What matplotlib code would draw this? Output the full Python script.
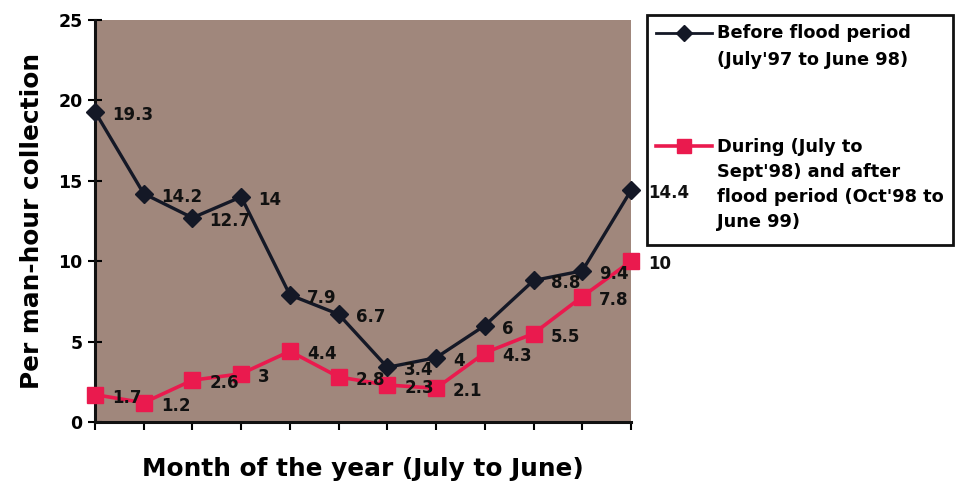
import matplotlib
matplotlib.use("Agg")
import matplotlib.pyplot as plt
from matplotlib.lines import Line2D
from matplotlib.patches import Rectangle

# Monthly per man-hour collection, July to June
months = list(range(12))
before_flood = [19.3, 14.2, 12.7, 14, 7.9, 6.7, 3.4, 4, 6, 8.8, 9.4, 14.4]
after_flood = [1.7, 1.2, 2.6, 3, 4.4, 2.8, 2.3, 2.1, 4.3, 5.5, 7.8, 10]
y_ticks = [0, 5, 10, 15, 20, 25]

before_label = "Before flood period\n(July'97 to June 98)"
after_label = "During (July to\nSept'98) and after\nflood period (Oct'98 to\nJune 99)"

BLACK = "#141826"
RED = "#EA1A4E"
BG = "#A0877C"

plt.rcParams["font.family"] = ["DejaVu Sans"]
plt.rcParams["font.weight"] = "bold"

W, H = 959, 488
fig = plt.figure(figsize=(W / 100, H / 100), dpi=100)
fig.patch.set_facecolor("white")

left, right, top, bottom = 95, 631, 20, 422
ax = fig.add_axes([left / W, 1 - bottom / H, (right - left) / W, (bottom - top) / H])
ax.set_facecolor(BG)

ax.plot(months, before_flood, color=BLACK, lw=2.4, marker="D", ms=9.5,
        mfc=BLACK, mec=BLACK, clip_on=False, zorder=4)
ax.plot(months, after_flood, color=RED, lw=2.6, marker="s", ms=11,
        mfc=RED, mec=RED, clip_on=False, zorder=3)

for xs, ys in ((months, before_flood), (months, after_flood)):
    for x, y in zip(xs, ys):
        ax.annotate(f"{y:g}", (x, y), xytext=(17, -3), textcoords="offset pixels",
                    ha="left", va="center", fontsize=12, fontweight="bold",
                    color="#111111", annotation_clip=False, zorder=6)

ax.set_xlim(0, 11)
ax.set_ylim(0, 25)
ax.set_xticks(months)
ax.set_xticklabels([])
ax.set_yticks(y_ticks)
ax.set_yticklabels([str(t) for t in y_ticks])
ax.tick_params(axis="y", direction="inout", length=10, width=1.5, labelsize=12.5, pad=4)
ax.tick_params(axis="x", direction="out", length=6, width=1.5)
for lbl in ax.get_yticklabels():
    lbl.set_fontweight("bold")

for side in ("top", "right"):
    ax.spines[side].set_visible(False)
for side in ("left", "bottom"):
    ax.spines[side].set_linewidth(2.2)
    ax.spines[side].set_color("#111111")

ax.set_ylabel("Per man-hour collection", fontsize=17.8, fontweight="bold", labelpad=10)
ax.set_xlabel("Month of the year (July to June)", fontsize=17.8, fontweight="bold", labelpad=16)

# Legend box drawn in figure pixel coordinates
def fx(px):
    return px / W

def fy(py):
    return 1 - py / H

fig.patches.append(Rectangle((fx(647), fy(245)), fx(953) - fx(647), (245 - 15) / H,
                             transform=fig.transFigure, facecolor="white",
                             edgecolor="#111111", linewidth=2, zorder=-1))
fig.lines.append(Line2D([fx(656), fx(712)], [fy(33), fy(33)], transform=fig.transFigure,
                        color=BLACK, lw=2, zorder=-0.5))
fig.lines.append(Line2D([fx(684)], [fy(33)], transform=fig.transFigure,
                        color=BLACK, marker="D", ms=8.5, lw=0, zorder=-0.5))
fig.lines.append(Line2D([fx(656), fx(712)], [fy(146), fy(146)], transform=fig.transFigure,
                        color=RED, lw=2.6, zorder=-0.5))
fig.lines.append(Line2D([fx(684)], [fy(146)], transform=fig.transFigure,
                        color=RED, marker="s", ms=10.5, lw=0, zorder=-0.5))
for i, line in enumerate(before_label.split("\n")):
    fig.text(fx(717), fy(33 + 27 * i), line, ha="left", va="center", fontsize=12.8,
             fontweight="bold", zorder=-0.5)
for i, line in enumerate(after_label.split("\n")):
    fig.text(fx(717), fy(147 + 25 * i), line, ha="left", va="center", fontsize=12.8,
             fontweight="bold", zorder=-0.5)

fig.savefig("out.png", dpi=100)
